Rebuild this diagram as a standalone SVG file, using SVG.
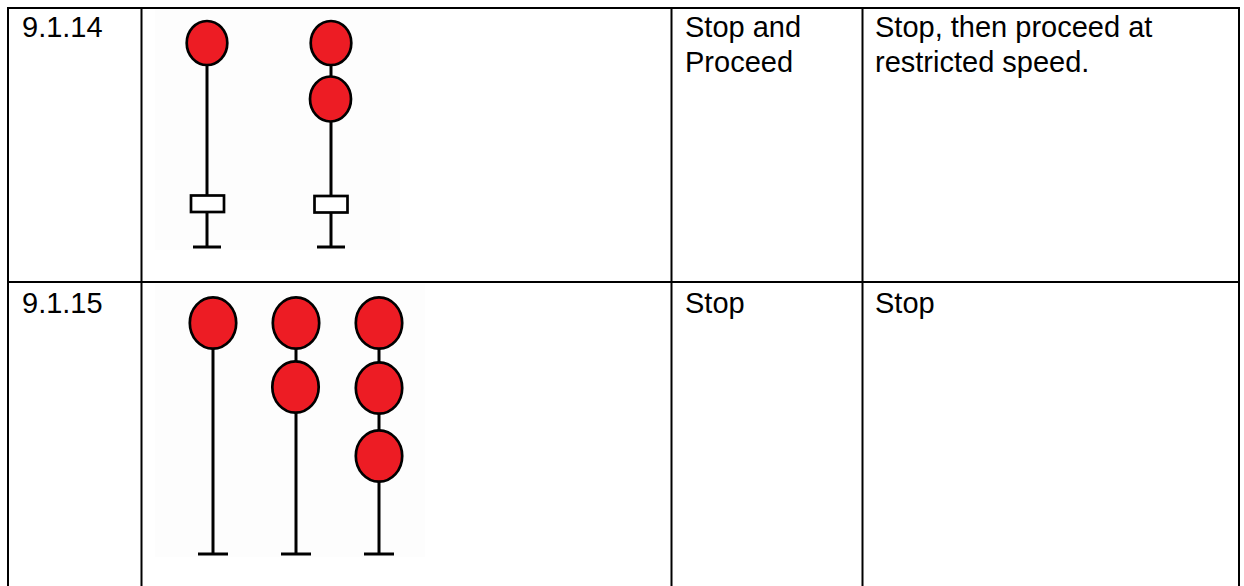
<svg xmlns="http://www.w3.org/2000/svg" width="1244" height="586" viewBox="0 0 1244 586">
<style>
.t{font-family:"Liberation Sans",Arial,sans-serif;font-size:29px;fill:#000}
.grid{stroke:#000;stroke-width:2;fill:none}
.lamp{fill:#ED1C24;stroke:#000;stroke-width:2.7}
.pole{stroke:#000;stroke-width:3;fill:none}
.box{fill:#fff;stroke:#000;stroke-width:2.7}
.bg{fill:#fdfdfd}
</style>
<rect width="1244" height="586" fill="#fff"/>
<g id="table" class="grid">
<line x1="8" y1="8" x2="1239" y2="8"/>
<line x1="8" y1="282" x2="1239" y2="282"/>
<line x1="8" y1="7" x2="8" y2="586"/>
<line x1="141.5" y1="7" x2="141.5" y2="586"/>
<line x1="671.5" y1="7" x2="671.5" y2="586"/>
<line x1="862.5" y1="7" x2="862.5" y2="586"/>
<line x1="1239" y1="7" x2="1239" y2="586"/>
</g>
<g id="row1-id"><text class="t" x="22" y="36.5">9.1.14</text></g>
<g id="row1-name"><text class="t" x="685" y="36.5">Stop and</text><text class="t" x="685" y="72">Proceed</text></g>
<g id="row1-desc"><text class="t" x="875" y="36.5">Stop, then proceed at</text><text class="t" x="875" y="72">restricted speed.</text></g>
<g id="row2-id"><text class="t" x="22" y="313">9.1.15</text></g>
<g id="row2-name"><text class="t" x="685" y="313">Stop</text></g>
<g id="row2-desc"><text class="t" x="875" y="313">Stop</text></g>
<rect class="bg" x="155" y="9" width="245" height="241"/>
<rect class="bg" x="155" y="284" width="270" height="273"/>
<g id="signal-1a">
<line class="pole" x1="207" y1="60" x2="207" y2="247"/>
<line class="pole" x1="193" y1="247" x2="221" y2="247"/>
<rect class="box" x="191" y="195.5" width="33" height="16.5"/>
<ellipse class="lamp" cx="207" cy="43" rx="20.3" ry="22"/>
</g>
<g id="signal-1b">
<line class="pole" x1="331" y1="60" x2="331" y2="247"/>
<line class="pole" x1="317" y1="247" x2="345" y2="247"/>
<rect class="box" x="314.5" y="196" width="33" height="16.5"/>
<ellipse class="lamp" cx="331" cy="43" rx="20.3" ry="22"/>
<ellipse class="lamp" cx="330.5" cy="99" rx="20.5" ry="22.5"/>
</g>
<g id="signal-2a">
<line class="pole" x1="213" y1="340" x2="213" y2="554"/>
<line class="pole" x1="198" y1="554" x2="228" y2="554"/>
<ellipse class="lamp" cx="213" cy="323" rx="23.2" ry="25.7"/>
</g>
<g id="signal-2b">
<line class="pole" x1="296" y1="340" x2="296" y2="554"/>
<line class="pole" x1="281" y1="554" x2="311" y2="554"/>
<ellipse class="lamp" cx="296" cy="323" rx="23.2" ry="25.7"/>
<ellipse class="lamp" cx="295.5" cy="387" rx="23.2" ry="25.7"/>
</g>
<g id="signal-2c">
<line class="pole" x1="379" y1="340" x2="379" y2="554"/>
<line class="pole" x1="364" y1="554" x2="394" y2="554"/>
<ellipse class="lamp" cx="379" cy="323" rx="23.2" ry="25.7"/>
<ellipse class="lamp" cx="379" cy="388" rx="23.2" ry="25.7"/>
<ellipse class="lamp" cx="379" cy="456" rx="23.2" ry="25.7"/>
</g>
</svg>
